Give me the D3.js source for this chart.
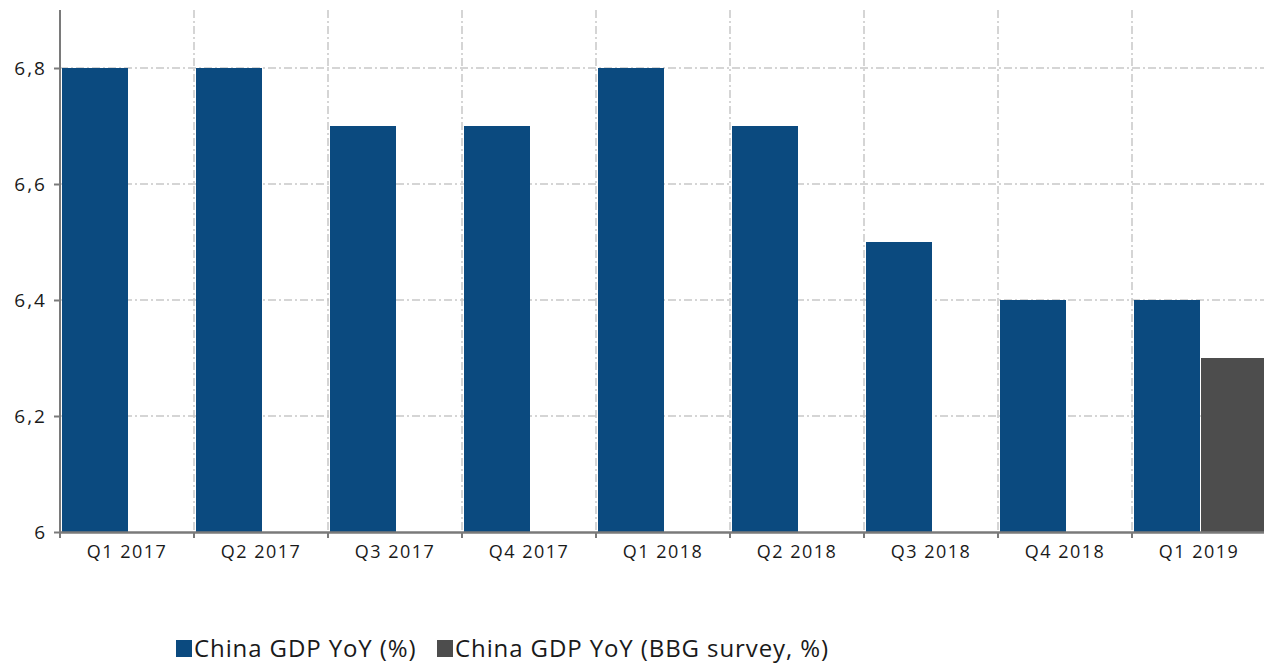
<!DOCTYPE html>
<html>
<head>
<meta charset="utf-8">
<script src="https://cdn.jsdelivr.net/npm/d3@7"></script>
<style>
  body { margin: 0; background: #fff; }
  svg text { font-family: "Open Sans", "DejaVu Sans", sans-serif; fill: #1a1a1a; }
</style>
</head>
<body>
<script>
// data
var quarters = ["Q1 2017", "Q2 2017", "Q3 2017", "Q4 2017", "Q1 2018", "Q2 2018", "Q3 2018", "Q4 2018", "Q1 2019"];
var gdpActual = [6.8, 6.8, 6.7, 6.7, 6.8, 6.7, 6.5, 6.4, 6.4];
var gdpSurvey = [null, null, null, null, null, null, null, null, 6.3];
var yTicks = [6, 6.2, 6.4, 6.6, 6.8];
var seriesNames = ["China GDP YoY (%)", "China GDP YoY (BBG survey, %)"];
var colors = ["#0b4a7f", "#4d4d4d"];

// margin
var margin = {top: 10, right: 0, bottom: 133, left: 60},
    width = 1264 - margin.left - margin.right + 2,
    height = 665 - margin.top - margin.bottom;

var svg = d3.select("body").append("svg")
    .attr("width", 1264)
    .attr("height", 665);

var g = svg.append("g")
    .attr("transform", "translate(" + margin.left + "," + margin.top + ")");

var x = d3.scaleBand()
    .domain(quarters)
    .range([0, width])
    .padding(0);

var sub = d3.scaleBand()
    .domain([0, 1])
    .range([0, x.bandwidth()])
    .paddingInner(0);

var y = d3.scaleLinear()
    .domain([6, 6.9])
    .range([height, 0]);

var fmt = function(d) { return d3.format(".1~f")(d).replace(".", ","); };

// horizontal grid
g.selectAll(".hgrid")
    .data(yTicks.slice(1))
  .enter().append("line")
    .attr("x1", 0).attr("x2", width)
    .attr("y1", function(d) { return y(d); })
    .attr("y2", function(d) { return y(d); })
    .attr("stroke", "#c8c8c8")
    .attr("stroke-width", 1.5)
    .attr("stroke-dasharray", "8,3,2,3");

// vertical grid at band edges
g.selectAll(".vgrid")
    .data(quarters.slice(1))
  .enter().append("line")
    .attr("x1", function(d) { return x(d); })
    .attr("x2", function(d) { return x(d); })
    .attr("y1", 0).attr("y2", height)
    .attr("stroke", "#c8c8c8")
    .attr("stroke-width", 1.5)
    .attr("stroke-dasharray", "8,3,2,3");

// bars
var rows = quarters.map(function(q, i) { return {q: q, vals: [gdpActual[i], gdpSurvey[i]]}; });

var grp = g.selectAll(".grp")
    .data(rows)
  .enter().append("g")
    .attr("transform", function(d) { return "translate(" + x(d.q) + ",0)"; });

grp.selectAll("rect")
    .data(function(d) { return d.vals.map(function(v, k) { return {k: k, v: v}; }).filter(function(e) { return e.v != null; }); })
  .enter().append("rect")
    .attr("x", function(d) { return sub(d.k) + 2; })
    .attr("width", sub.bandwidth() - 1)
    .attr("y", function(d) { return y(d.v); })
    .attr("height", function(d) { return height - y(d.v); })
    .attr("fill", function(d) { return colors[d.k]; });

// y axis
var yAxis = g.append("g")
    .call(d3.axisLeft(y).tickValues(yTicks).tickFormat(fmt).tickSize(6).tickPadding(7));
yAxis.select(".domain").attr("stroke", "#7a7a7a").attr("stroke-width", 2)
    .attr("d", "M0," + height + "V0");
yAxis.selectAll(".tick line").attr("stroke", "#7a7a7a").attr("stroke-width", 2);
yAxis.selectAll("text").style("font-size", "19px").style("letter-spacing", "2px");

// x axis
var xAxis = g.append("g")
    .attr("transform", "translate(0," + height + ")")
    .call(d3.axisBottom(x).tickSize(0).tickPadding(13));
xAxis.select(".domain").attr("stroke", "#7a7a7a").attr("stroke-width", 2.5);
xAxis.selectAll("text").style("font-size", "18px").style("letter-spacing", "1.5px");

// x ticks at band edges
g.selectAll(".xtick")
    .data(quarters)
  .enter().append("line")
    .attr("x1", function(d) { return x(d); })
    .attr("x2", function(d) { return x(d); })
    .attr("y1", height).attr("y2", height + 6)
    .attr("stroke", "#7a7a7a")
    .attr("stroke-width", 2);

// legend
var legend = svg.append("g")
    .attr("transform", "translate(176,657)");
var lx = [0, 261];
seriesNames.forEach(function(name, i) {
  legend.append("rect")
    .attr("x", lx[i]).attr("y", -17)
    .attr("width", 16).attr("height", 17)
    .attr("fill", colors[i]);
  legend.append("text")
    .attr("x", lx[i] + 18).attr("y", 0)
    .style("font-size", "24px")
    .style("letter-spacing", "0.9px")
    .text(name);
});
</script>
</body>
</html>
